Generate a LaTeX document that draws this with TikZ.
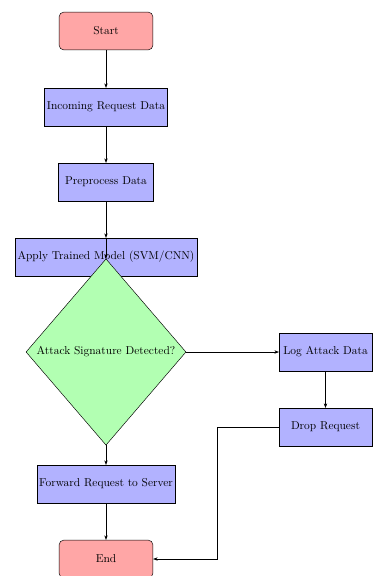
\documentclass[tikz,border=0pt]{standalone}
\usetikzlibrary{shapes.geometric,arrows.meta}
\tikzset{
  terminal/.style={draw, rounded corners=4pt, fill=red!35, minimum width=82pt, minimum height=33pt, inner sep=2pt},
  process/.style={draw, fill=blue!30, minimum height=33pt, inner sep=2pt},
  decision/.style={draw, diamond, fill=green!30, inner sep=0pt, minimum width=140pt, minimum height=163pt},
  arrow/.style={-{Stealth[length=4pt,width=3pt]}, line width=0.5pt}
}
\begin{document}
\begin{tikzpicture}[x=0.875pt,y=-0.875pt]
\useasboundingbox (0,0) rectangle (376,576);
\node[terminal] (start) at (106,31) {Start};
\node[process, minimum width=107pt] (incoming) at (106,107) {Incoming Request Data};
\node[process, minimum width=83pt] (pre) at (106,182) {Preprocess Data};
\node[process, minimum width=157pt] (apply) at (106,257) {Apply Trained Model (SVM/CNN)};
\node[decision] (dec) at (106,352) {Attack Signature Detected?};
\node[process, minimum width=81pt] (log) at (325.5,352) {Log Attack Data};
\node[process, minimum width=81pt] (drop) at (325.5,427) {Drop Request};
\node[process, minimum width=121pt] (fwd) at (106,484) {Forward Request to Server};
\node[terminal] (end) at (106,559) {End};
\coordinate (turn) at (217,427);
\draw[arrow] (start) -- (incoming);
\draw[arrow] (incoming) -- (pre);
\draw[arrow] (pre) -- (apply);
\draw[arrow] (apply.north) -- (dec.north);
\draw[arrow] (dec) -- (log);
\draw[arrow] (log) -- (drop);
\draw[arrow] (dec) -- (fwd);
\draw[arrow] (fwd) -- (end);
\draw[arrow] (drop.west) -- (turn) |- (end.east);
\end{tikzpicture}
\end{document}
